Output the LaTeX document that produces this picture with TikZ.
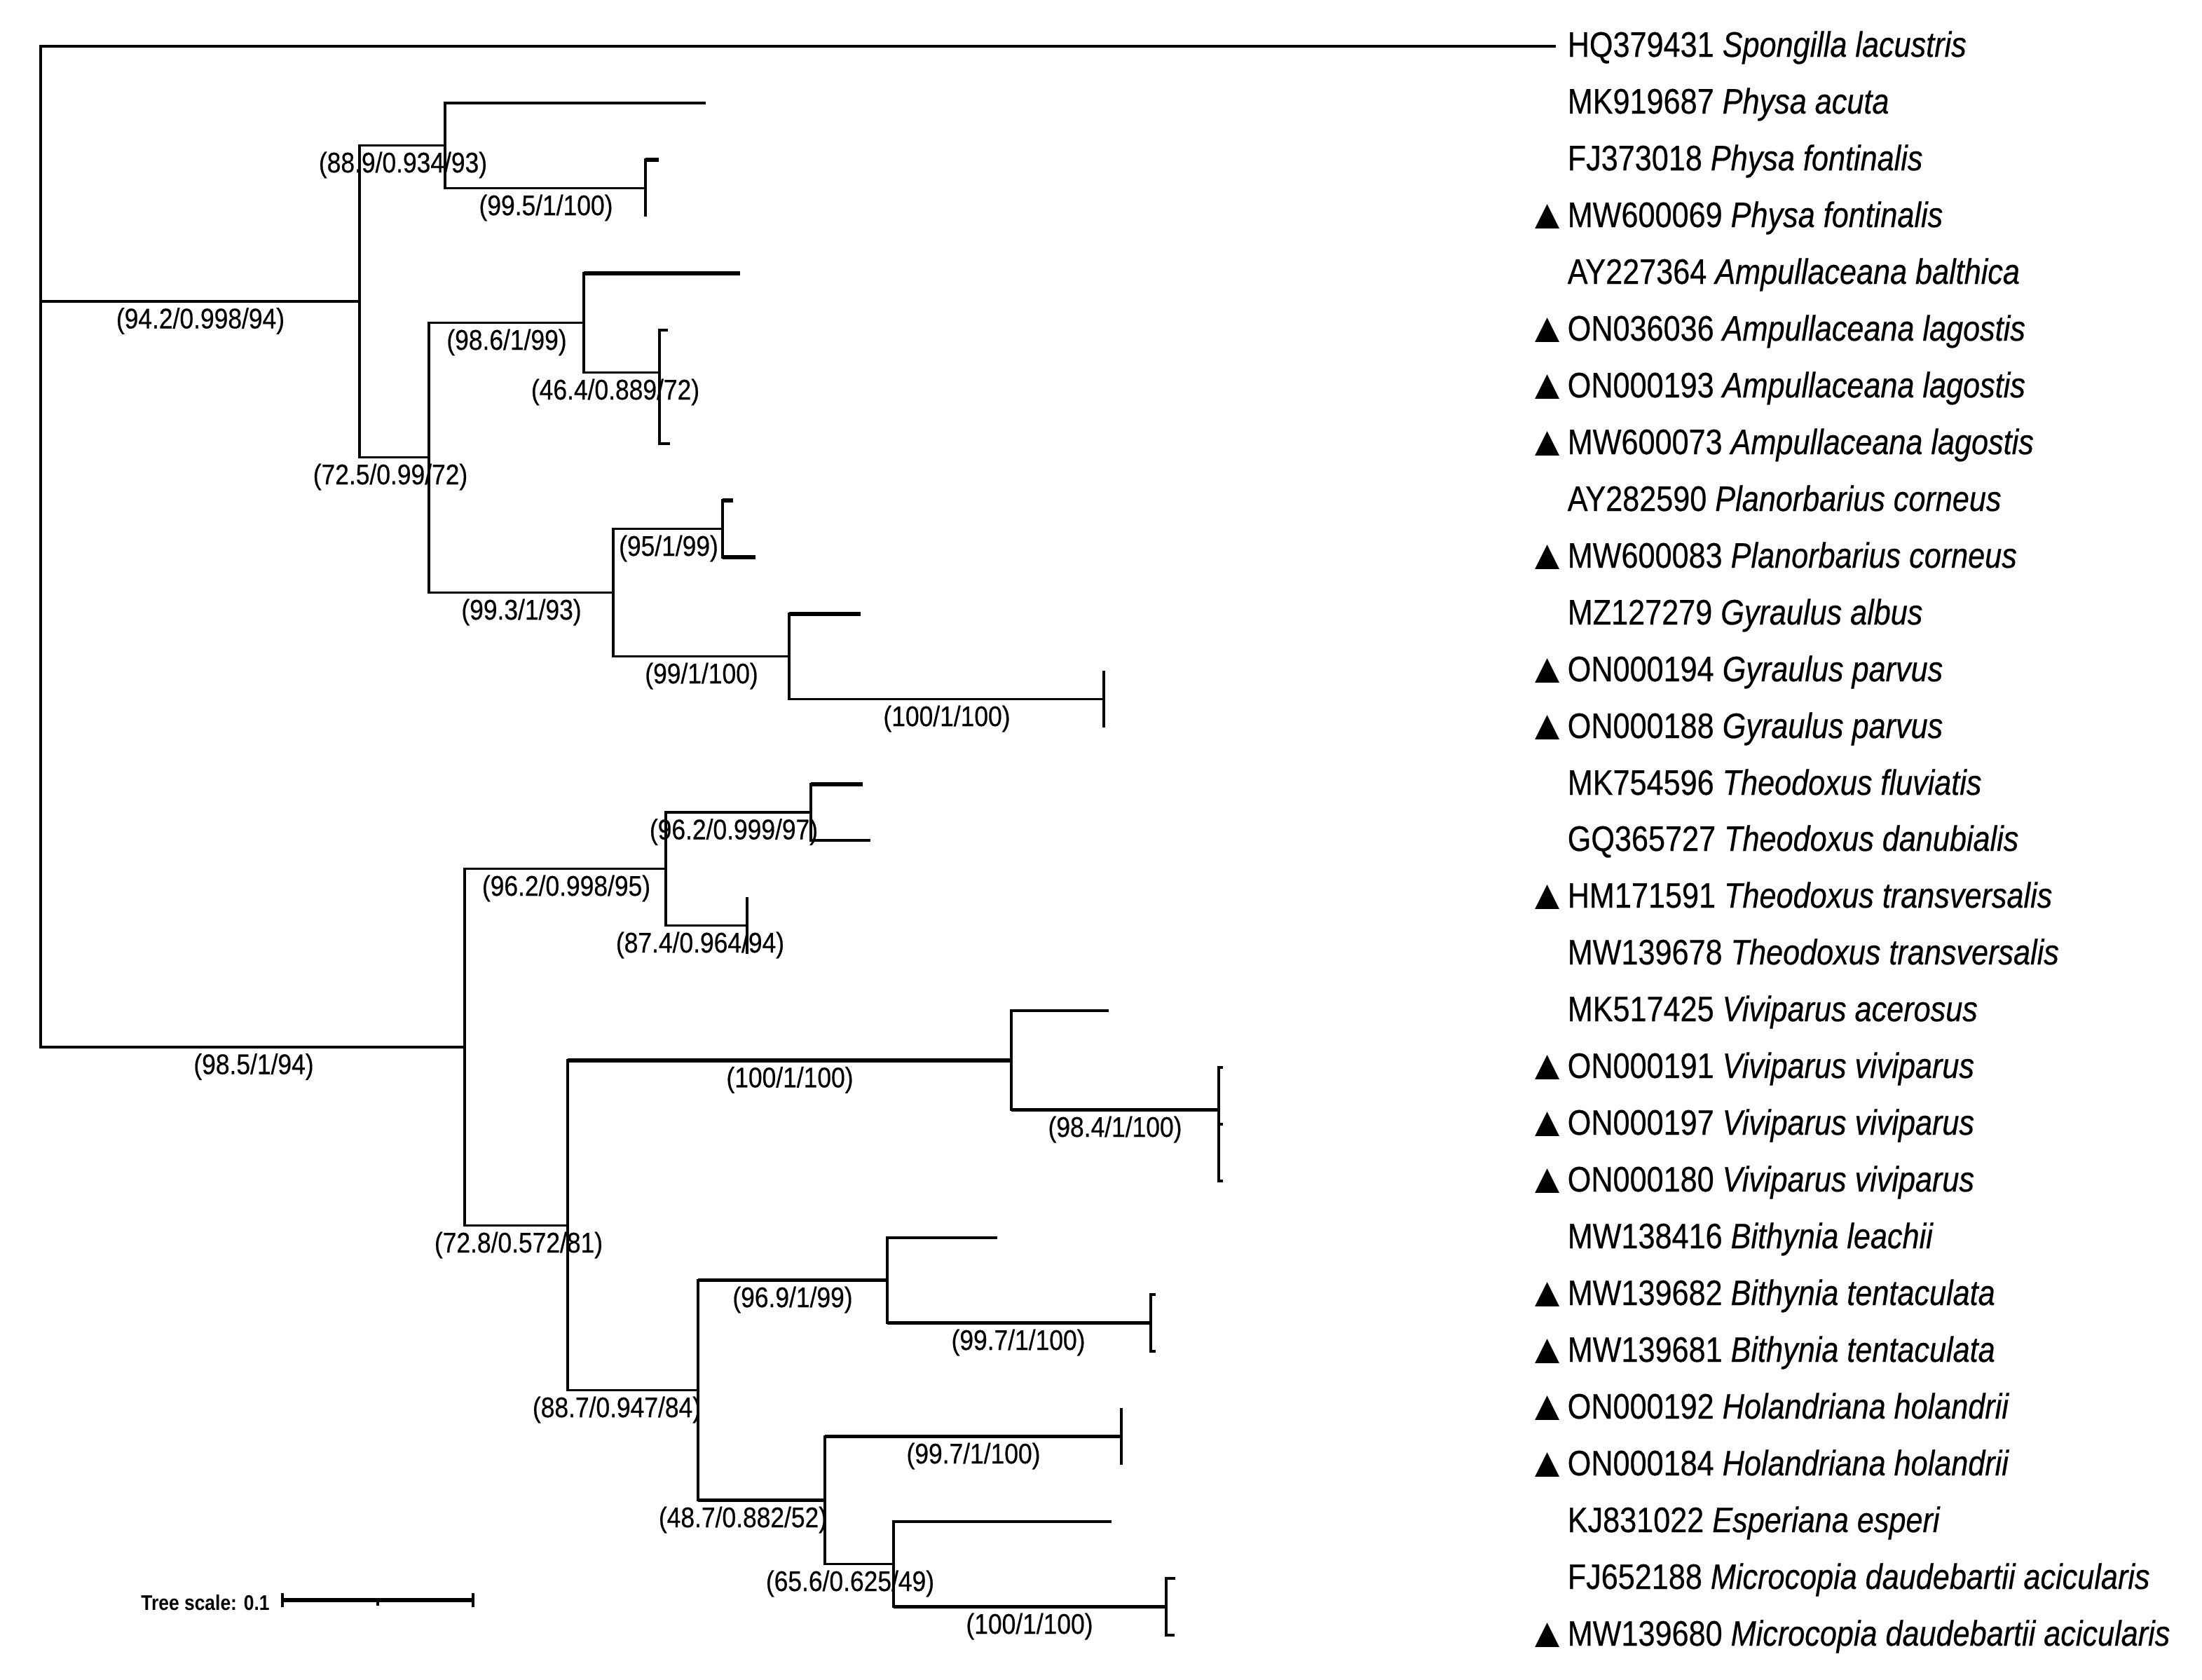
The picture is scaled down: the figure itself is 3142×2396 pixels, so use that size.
\documentclass[tikz,border=0pt]{standalone}
\usepackage{fontspec}
\setmainfont{Liberation Sans}[FakeBold=0.5]
\newfontfamily\plainfont{Liberation Sans}
\usepackage{graphicx}
\newcommand\leafcond[1]{\scalebox{0.855}[1]{#1}}
\newcommand\bscond[1]{\scalebox{0.874}[1]{#1}}
\tikzset{
  br/.style={line width=0.97pt, line join=miter},
  thk/.style={line width=1.5pt},
  leaflab/.style={anchor=base west, inner sep=0pt, font=\fontsize{14.37}{16}\selectfont},
  bslab/.style={anchor=base, inner sep=0pt, font=\fontsize{11.52}{13}\selectfont},
  trimark/.style={anchor=base, inner sep=0pt, font=\plainfont\fontsize{17}{19}\selectfont},
  scalelab/.style={anchor=base, inner sep=0pt, font=\plainfont\fontsize{8.6}{10}\selectfont\bfseries},
}
\begin{document}
\begin{tikzpicture}[x=0.01cm, y=-0.01cm]
\useasboundingbox[fill=white] (0,0) rectangle (3142,2396);
% internal nodes
\coordinate (root) at (58,430);
\coordinate (A) at (513,430);
\coordinate (B) at (635,207.75);
\coordinate (C) at (921,268.5);
\coordinate (D) at (612,652.75);
\coordinate (E) at (833,460.5);
\coordinate (F) at (941,531.75);
\coordinate (F2) at (941,592.5);
\coordinate (G) at (875,845.6);
\coordinate (H) at (1031,754.5);
\coordinate (I) at (1126,936.75);
\coordinate (J) at (1575,997.5);
\coordinate (K) at (663,1494);
\coordinate (L) at (950,1239.75);
\coordinate (M) at (1157,1159);
\coordinate (N) at (1066,1320.5);
\coordinate (O) at (810,1748.3);
\coordinate (P) at (1443,1512.9);
\coordinate (Q) at (1739,1583.75);
\coordinate (Q2) at (1739,1644.5);
\coordinate (R) at (996,1983.7);
\coordinate (S) at (1266,1826.75);
\coordinate (T) at (1642,1887.5);
\coordinate (U) at (1177,2140.6);
\coordinate (V) at (1600,2049.5);
\coordinate (W) at (1275,2231.75);
\coordinate (X) at (1664,2292.5);
% tips
\coordinate (t0) at (2220,66);
\coordinate (t1) at (1007,147);
\coordinate (t2) at (940,228);
\coordinate (t3) at (921,309);
\coordinate (t4) at (1056,390);
\coordinate (t5) at (953,471);
\coordinate (t6) at (941,552);
\coordinate (t7) at (956,633);
\coordinate (t8) at (1046,714);
\coordinate (t9) at (1078,795);
\coordinate (t10) at (1228,876);
\coordinate (t11) at (1575,957);
\coordinate (t12) at (1575,1038);
\coordinate (t13) at (1231,1119);
\coordinate (t14) at (1242,1199);
\coordinate (t15) at (1066,1280);
\coordinate (t16) at (1066,1361);
\coordinate (t17) at (1582,1442);
\coordinate (t18) at (1745,1523);
\coordinate (t19) at (1745,1604);
\coordinate (t20) at (1745,1685);
\coordinate (t21) at (1423,1766);
\coordinate (t22) at (1649,1847);
\coordinate (t23) at (1649,1928);
\coordinate (t24) at (1600,2009);
\coordinate (t25) at (1600,2090);
\coordinate (t26) at (1586,2171);
\coordinate (t27) at (1677,2252);
\coordinate (t28) at (1676,2333);
% branches
\foreach \p/\c in {root/t0, root/A, root/K, A/B, A/D, B/t1, B/C, C/t2, C/t3,
  D/E, D/G, E/t4, E/F, F/t5, F/F2, F2/t6, F2/t7, G/H, G/I, H/t8, H/t9,
  I/t10, I/J, J/t11, J/t12, K/L, K/O, L/M, L/N, M/t13, M/t14, N/t15, N/t16,
  O/P, O/R, P/t17, P/Q, Q/t18, Q/Q2, Q2/t19, Q2/t20, R/S, R/U, S/t21, S/T,
  T/t22, T/t23, U/V, U/W, V/t24, V/t25, W/t26, W/X, X/t27, X/t28}
  \draw[br] (\p) |- (\c);
\foreach \p/\c in {E/t4, H/t9, I/t10, M/t13, O/P, P/Q, R/S, S/T, R/U, U/V, W/X, C/t2, H/t8}
  \draw[thk] (\p |- \c) -- (\c);
% leaf labels
\node[leaflab] (n0) at (2236,81) {\leafcond{HQ379431 \textit{Spongilla lacustris}}};
\node[leaflab] (n1) at (2236,162) {\leafcond{MK919687 \textit{Physa acuta}}};
\node[leaflab] (n2) at (2236,243) {\leafcond{FJ373018 \textit{Physa fontinalis}}};
\node[leaflab] (n3) at (2236,324) {\leafcond{MW600069 \textit{Physa fontinalis}}};
\node[leaflab] (n4) at (2236,405) {\leafcond{AY227364 \textit{Ampullaceana balthica}}};
\node[leaflab] (n5) at (2236,486) {\leafcond{ON036036 \textit{Ampullaceana lagostis}}};
\node[leaflab] (n6) at (2236,567) {\leafcond{ON000193 \textit{Ampullaceana lagostis}}};
\node[leaflab] (n7) at (2236,648) {\leafcond{MW600073 \textit{Ampullaceana lagostis}}};
\node[leaflab] (n8) at (2236,729) {\leafcond{AY282590 \textit{Planorbarius corneus}}};
\node[leaflab] (n9) at (2236,810) {\leafcond{MW600083 \textit{Planorbarius corneus}}};
\node[leaflab] (n10) at (2236,891) {\leafcond{MZ127279 \textit{Gyraulus albus}}};
\node[leaflab] (n11) at (2236,972) {\leafcond{ON000194 \textit{Gyraulus parvus}}};
\node[leaflab] (n12) at (2236,1053) {\leafcond{ON000188 \textit{Gyraulus parvus}}};
\node[leaflab] (n13) at (2236,1134) {\leafcond{MK754596 \textit{Theodoxus fluviatis}}};
\node[leaflab] (n14) at (2236,1214) {\leafcond{GQ365727 \textit{Theodoxus danubialis}}};
\node[leaflab] (n15) at (2236,1295) {\leafcond{HM171591 \textit{Theodoxus transversalis}}};
\node[leaflab] (n16) at (2236,1376) {\leafcond{MW139678 \textit{Theodoxus transversalis}}};
\node[leaflab] (n17) at (2236,1457) {\leafcond{MK517425 \textit{Viviparus acerosus}}};
\node[leaflab] (n18) at (2236,1538) {\leafcond{ON000191 \textit{Viviparus viviparus}}};
\node[leaflab] (n19) at (2236,1619) {\leafcond{ON000197 \textit{Viviparus viviparus}}};
\node[leaflab] (n20) at (2236,1700) {\leafcond{ON000180 \textit{Viviparus viviparus}}};
\node[leaflab] (n21) at (2236,1781) {\leafcond{MW138416 \textit{Bithynia leachii}}};
\node[leaflab] (n22) at (2236,1862) {\leafcond{MW139682 \textit{Bithynia tentaculata}}};
\node[leaflab] (n23) at (2236,1943) {\leafcond{MW139681 \textit{Bithynia tentaculata}}};
\node[leaflab] (n24) at (2236,2024) {\leafcond{ON000192 \textit{Holandriana holandrii}}};
\node[leaflab] (n25) at (2236,2105) {\leafcond{ON000184 \textit{Holandriana holandrii}}};
\node[leaflab] (n26) at (2236,2186) {\leafcond{KJ831022 \textit{Esperiana esperi}}};
\node[leaflab] (n27) at (2236,2267) {\leafcond{FJ652188 \textit{Microcopia daudebartii acicularis}}};
\node[leaflab] (n28) at (2236,2348) {\leafcond{MW139680 \textit{Microcopia daudebartii acicularis}}};
% triangle markers
\foreach \r/\yb in {3/324, 5/486, 6/567, 7/648, 9/810, 11/972, 12/1053, 15/1295, 18/1538,
  19/1619, 20/1700, 22/1862, 23/1943, 24/2024, 25/2105, 28/2348}
  \node[trimark] (tri\r) at (2208,\yb+2) {▲};
% support labels
\node[bslab] (b1) at (286,468.5) {\bscond{(94.2/0.998/94)}};
\node[bslab] (b2) at (575,246) {\bscond{(88.9/0.934/93)}};
\node[bslab] (b3) at (779,307) {\bscond{(99.5/1/100)}};
\node[bslab] (b4) at (557,691) {\bscond{(72.5/0.99/72)}};
\node[bslab] (b5) at (723,499) {\bscond{(98.6/1/99)}};
\node[bslab] (b6) at (878,570) {\bscond{(46.4/0.889/72)}};
\node[bslab] (b7) at (744,884) {\bscond{(99.3/1/93)}};
\node[bslab] (b8) at (954,793) {\bscond{(95/1/99)}};
\node[bslab] (b9) at (1001,975) {\bscond{(99/1/100)}};
\node[bslab] (b10) at (1351,1036) {\bscond{(100/1/100)}};
\node[bslab] (b11) at (362,1532.5) {\bscond{(98.5/1/94)}};
\node[bslab] (b12) at (808,1278) {\bscond{(96.2/0.998/95)}};
\node[bslab] (b13) at (1047,1197.5) {\bscond{(96.2/0.999/97)}};
\node[bslab] (b14) at (999,1359) {\bscond{(87.4/0.964/94)}};
\node[bslab] (b15) at (740,1787) {\bscond{(72.8/0.572/81)}};
\node[bslab] (b16) at (1127,1551.4) {\bscond{(100/1/100)}};
\node[bslab] (b17) at (1591,1622) {\bscond{(98.4/1/100)}};
\node[bslab] (b18) at (880,2022) {\bscond{(88.7/0.947/84)}};
\node[bslab] (b19) at (1131,1865) {\bscond{(96.9/1/99)}};
\node[bslab] (b20) at (1453,1926) {\bscond{(99.7/1/100)}};
\node[bslab] (b21) at (1060,2179) {\bscond{(48.7/0.882/52)}};
\node[bslab] (b22) at (1389,2088) {\bscond{(99.7/1/100)}};
\node[bslab] (b23) at (1213,2270) {\bscond{(65.6/0.625/49)}};
\node[bslab] (b24) at (1469,2331) {\bscond{(100/1/100)}};
% scale bar
\node[scalelab] (sclab) at (293,2297) {\bscond{Tree scale: 0.1}};
\coordinate (sb1) at (403,2283);
\coordinate (sb2) at (675,2283);
\coordinate (sbm) at (539,2283);
\draw[thk] (sb1) -- (sb2);
\draw[br] ([yshift=-10*0.01cm]sb1) -- ([yshift=10*0.01cm]sb1);
\draw[br] ([yshift=-10*0.01cm]sb2) -- ([yshift=10*0.01cm]sb2);
\draw[br] (sbm) -- ([yshift=-8*0.01cm]sbm);
\end{tikzpicture}
\end{document}
